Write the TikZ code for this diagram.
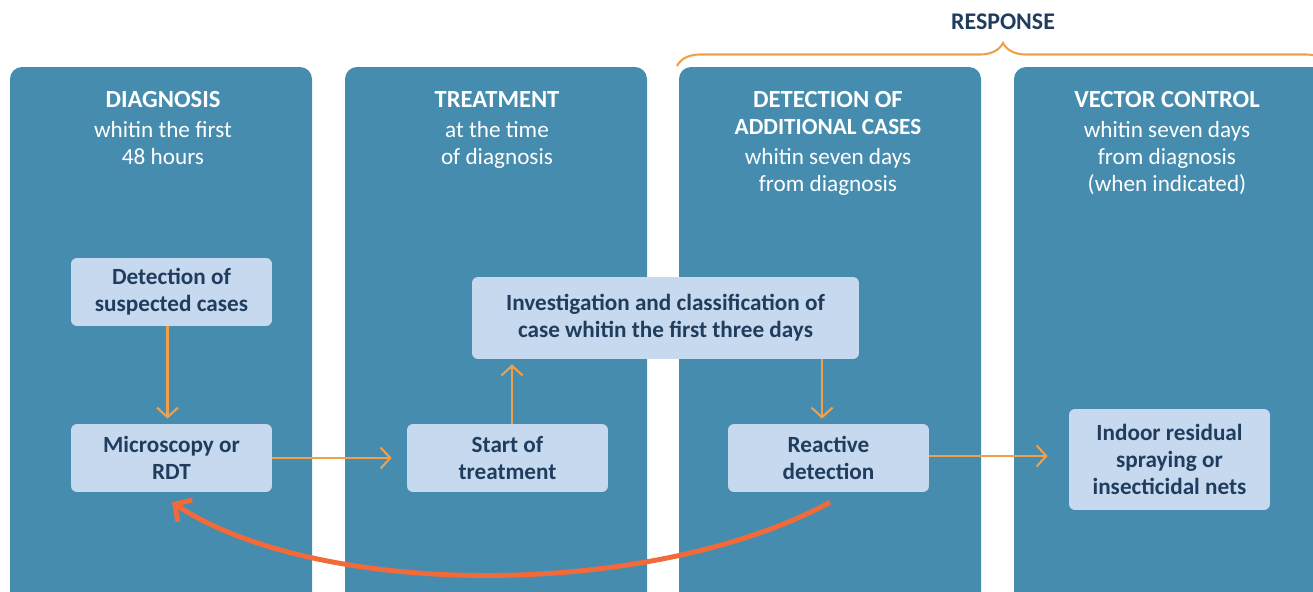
\documentclass[tikz,border=0pt]{standalone}
\usepackage{fontspec}
\setmainfont{Carlito}
\usetikzlibrary{arrows.meta, decorations.pathreplacing}

\definecolor{colblue}{HTML}{468CAE}
\definecolor{boxfill}{HTML}{C6D9EF}
\definecolor{boxtext}{HTML}{213D5E}
\definecolor{flowor}{HTML}{F0A04B}
\definecolor{loopred}{HTML}{F26A3A}

\begin{document}
\begin{tikzpicture}[x=0.02cm, y=-0.02cm,
  column/.style={fill=colblue, rounded corners=0.24cm},
  head/.style={anchor=north, align=center, text=white, inner sep=0pt,
    font=\fontsize{13.2}{15.3}\selectfont},
  stage/.style={fill=boxfill, rounded corners=0.12cm, text=boxtext, align=center,
    inner sep=0pt, minimum width=4.02cm, minimum height=1.36cm,
    font=\bfseries\fontsize{13.2}{15.3}\selectfont},
  flow/.style={draw=flowor, line width=1.2pt, -{Straight Barb[length=5.5pt,width=12pt]}},
  backloop/.style={draw=loopred, line width=2.8pt, -{Straight Barb[length=7pt,width=15pt]}}]
  \useasboundingbox (0,0) rectangle (1313,592);
  \clip (0,0) rectangle (1313,592);

  % columns
  \fill[column] (10,67) rectangle (312,640);
  \fill[column] (345,67) rectangle (647,640);
  \fill[column] (679,67) rectangle (981,640);
  \fill[column] (1014,67) rectangle (1340,640);

  % response brace
  \draw[flowor, line width=1.2pt, decorate, decoration={brace, amplitude=0.46cm}]
    (677,66) -- (1329,66);
  \node[text=boxtext, font=\bfseries\fontsize{13.6}{15.3}\selectfont] (resp) at (1003,22) {RESPONSE};

  % column headings
  \node[head, font=\fontsize{13.2}{15.3}\selectfont] (hdiag) at (163,91)
    {\fontsize{14}{15.3}\selectfont\textbf{DIAGNOSIS}\\[2pt] whitin the first\\ 48 hours};
  \node[head] (htreat) at (497,91)
    {\fontsize{14}{15.3}\selectfont\textbf{TREATMENT}\\[2pt] at the time\\ of diagnosis};
  \node[head] (hdetect) at (828,91)
    {\fontsize{14}{14}\selectfont\textbf{DETECTION OF}\\ \textbf{ADDITIONAL CASES}\\[2pt]
    whitin seven days\\ from diagnosis};
  \node[head] (hvector) at (1167,91)
    {\fontsize{14}{15.3}\selectfont\textbf{VECTOR CONTROL}\\[2pt] whitin seven days\\
    from diagnosis\\ (when indicated)};

  % steps
  \node[stage] (det) at (171.5,292) {Detection of\\ suspected cases};
  \node[stage] (mic) at (171.5,458) {Microscopy or\\ RDT};
  \node[stage] (start) at (507.5,458) {Start of\\ treatment};
  \node[stage, minimum width=7.74cm, minimum height=1.64cm] (inv) at (665.5,318)
    {Investigation and classification of\\ case whitin the first three days};
  \node[stage] (react) at (828.5,458) {Reactive\\ detection};
  \node[stage, minimum height=2.02cm] (irs) at (1169.5,459.5)
    {Indoor residual\\ spraying or\\ insecticidal nets};

  % arrows
  \draw[flow, shorten >=0.1cm] ([shift={(-4,0)}]det.south) -- ([shift={(-4,0)}]mic.north);
  \draw[flow, shorten >=0.3cm] (mic.east) -- (start.west);
  \draw[flow, shorten >=0.1cm] ([shift={(4.5,0)}]start.north) -- ([shift={(4.5,0)}]start.north |- inv.south);
  \draw[flow, shorten >=0.1cm] ([shift={(-6.5,0)}]react.north |- inv.south) -- ([shift={(-6.5,0)}]react.north);
  \draw[flow, shorten >=0.42cm] ([shift={(0,-2)}]react.east) -- ([shift={(0,-3.5)}]irs.west);
  \draw[backloop] ([shift={(1.5,10)}]react.south) .. controls +(-180,97) and +(148,97)
    .. ([shift={(0.5,10)}]mic.south);
\end{tikzpicture}
\end{document}
